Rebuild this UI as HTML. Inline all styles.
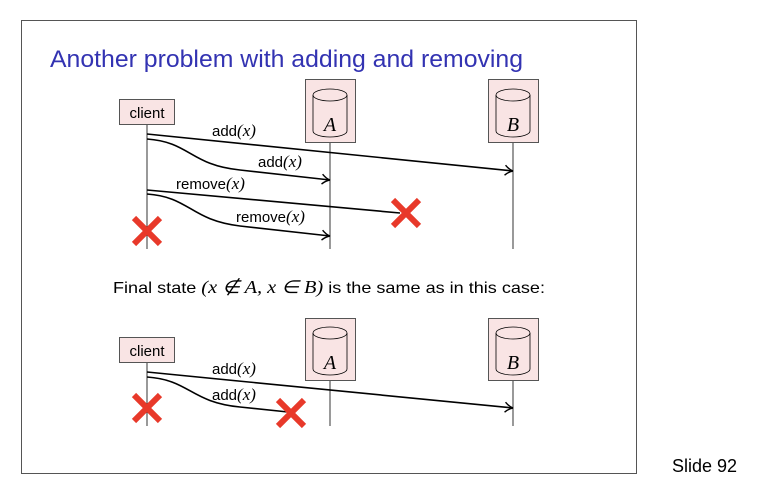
<!DOCTYPE html>
<html><head><meta charset="utf-8"><style>
html,body{margin:0;padding:0;background:#fff;width:767px;height:495px;overflow:hidden}
svg{display:block}
text{font-family:"Liberation Sans",sans-serif}
.m{font-family:"Liberation Serif",serif;font-style:italic}
</style></head><body>
<svg width="767" height="495" viewBox="0 0 767 495" xmlns="http://www.w3.org/2000/svg">
<defs>
<marker id="ar" markerWidth="10" markerHeight="12" refX="9" refY="6" orient="auto" markerUnits="userSpaceOnUse">
<path d="M1,1 Q5,5 9,6 Q5,7 1,11" fill="none" stroke="#000" stroke-width="1.4"/>
</marker>
<g id="cyl">
<path d="M-17,-36 L-17,0 A17,6 0 0 0 17,0 L17,-36" fill="none" stroke="#000" stroke-width="0.8"/>
<ellipse cx="0" cy="-36" rx="17" ry="6" fill="none" stroke="#000" stroke-width="0.8"/>
</g>
</defs>
<rect x="21.5" y="20.5" width="615" height="453" fill="none" stroke="#555" stroke-width="1"/>
<text x="50" y="67" font-size="24" fill="#3333b2" textLength="473" lengthAdjust="spacingAndGlyphs">Another problem with adding and removing</text>
<text x="672" y="472" font-size="18" fill="#000">Slide 92</text>

<!-- top diagram -->
<line x1="147" y1="125" x2="147" y2="249" stroke="#000" stroke-width="0.8"/>
<line x1="330" y1="143" x2="330" y2="249" stroke="#000" stroke-width="0.8"/>
<line x1="513" y1="143" x2="513" y2="249" stroke="#000" stroke-width="0.8"/>
<rect x="119.5" y="99.5" width="55" height="25" fill="#f9e4e4" stroke="#555"/>
<text x="147" y="118" font-size="15" text-anchor="middle">client</text>
<rect x="305.5" y="79.5" width="50" height="63" fill="#f9e4e4" stroke="#555"/>
<use href="#cyl" x="330" y="131"/>
<text x="330" y="131" font-size="20" class="m" text-anchor="middle">A</text>
<rect x="488.5" y="79.5" width="50" height="63" fill="#f9e4e4" stroke="#555"/>
<use href="#cyl" x="513" y="131"/>
<text x="513" y="131" font-size="20" class="m" text-anchor="middle">B</text>

<path d="M147,134 L513,171" stroke="#000" stroke-width="1.6" fill="none" marker-end="url(#ar)"/>
<text x="212" y="136" font-size="15">add<tspan class="m" font-size="17">(x)</tspan></text>
<path d="M147,139 C190,142 190,165 240,170 L330,180" stroke="#000" stroke-width="1.6" fill="none" marker-end="url(#ar)"/>
<text x="258" y="167" font-size="15">add<tspan class="m" font-size="17">(x)</tspan></text>
<path d="M147,190 L400,213" stroke="#000" stroke-width="1.6" fill="none"/>
<text x="176" y="189" font-size="15">remove<tspan class="m" font-size="17">(x)</tspan></text>
<path d="M147,194 C190,197 190,220 240,226 L330,236" stroke="#000" stroke-width="1.6" fill="none" marker-end="url(#ar)"/>
<text x="236" y="222" font-size="15">remove<tspan class="m" font-size="17">(x)</tspan></text>
<g stroke="#e8392a" stroke-width="6"><path d="M393,200 L419,226 M419,200 L393,226"/><path d="M134,218 L160,244 M160,218 L134,244"/></g>

<text x="113" y="293" font-size="16" textLength="432" lengthAdjust="spacingAndGlyphs">Final state <tspan class="m" font-size="18">(x ∉ A,  x ∈ B)</tspan> is the same as in this case:</text>

<!-- bottom diagram -->
<line x1="147" y1="362" x2="147" y2="426" stroke="#000" stroke-width="0.8"/>
<line x1="330" y1="380" x2="330" y2="426" stroke="#000" stroke-width="0.8"/>
<line x1="513" y1="380" x2="513" y2="426" stroke="#000" stroke-width="0.8"/>
<rect x="119.5" y="337.5" width="55" height="25" fill="#f9e4e4" stroke="#555"/>
<text x="147" y="356" font-size="15" text-anchor="middle">client</text>
<rect x="305.5" y="318.5" width="50" height="62" fill="#f9e4e4" stroke="#555"/>
<use href="#cyl" x="330" y="369"/>
<text x="330" y="369" font-size="20" class="m" text-anchor="middle">A</text>
<rect x="488.5" y="318.5" width="50" height="62" fill="#f9e4e4" stroke="#555"/>
<use href="#cyl" x="513" y="369"/>
<text x="513" y="369" font-size="20" class="m" text-anchor="middle">B</text>
<path d="M147,372 L513,408" stroke="#000" stroke-width="1.6" fill="none" marker-end="url(#ar)"/>
<text x="212" y="374" font-size="15">add<tspan class="m" font-size="17">(x)</tspan></text>
<path d="M147,377 C190,380 190,402 240,407 L288,412" stroke="#000" stroke-width="1.6" fill="none"/>
<text x="212" y="400" font-size="15">add<tspan class="m" font-size="17">(x)</tspan></text>
<g stroke="#e8392a" stroke-width="6"><path d="M278,400 L304,426 M304,400 L278,426"/><path d="M134,395 L160,421 M160,395 L134,421"/></g>
</svg>
</body></html>
